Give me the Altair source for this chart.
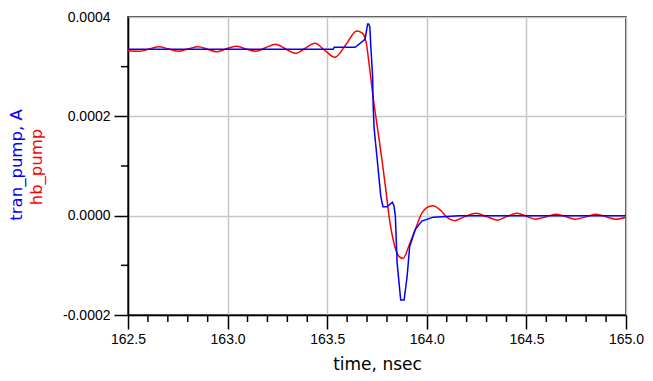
import altair as alt
import pandas as pd

# ---- data (time in ns, current in A) ----
tran_t = [162.50, 163.53, 163.535, 163.64, 163.69, 163.703, 163.708, 163.714, 163.719,
          163.728, 163.731, 163.736, 163.7525, 163.769, 163.78, 163.80, 163.827, 163.835,
          163.842, 163.851, 163.869, 163.886, 163.901, 163.914, 163.942, 163.975, 164.033,
          164.163, 165.0]
tran_v = [3.35, 3.35, 3.39, 3.39, 3.55, 3.86, 3.86, 3.80, 3.40,
          2.80, 2.18, 1.74, 1.07, 0.39, 0.18, 0.18, 0.27, 0.20,
          0.0, -0.95, -1.70, -1.70, -1.23, -0.62, -0.28, -0.11, -0.03,
          0.0, 0.0]

hb_t = [162.50, 162.56, 162.61, 162.655, 162.705, 162.754, 162.80, 162.853, 162.90, 162.944,
        162.99, 163.043, 163.09, 163.142, 163.19, 163.241, 163.29, 163.34, 163.39, 163.438,
        163.488, 163.538, 163.595, 163.648, 163.675, 163.695, 163.712, 163.730, 163.7525,
        163.777, 163.794, 163.81, 163.835, 163.86, 163.881, 163.909, 163.942, 163.975, 164.0,
        164.03, 164.074, 164.10, 164.14, 164.19, 164.248, 164.30, 164.355, 164.40, 164.454,
        164.50, 164.545, 164.60, 164.652, 164.70, 164.743, 164.80, 164.85, 164.90, 164.949,
        165.0]
hb_v = [3.32, 3.31, 3.36, 3.40, 3.355, 3.31, 3.355, 3.40, 3.35, 3.30,
        3.355, 3.41, 3.36, 3.31, 3.38, 3.45, 3.36, 3.27, 3.37, 3.47,
        3.33, 3.19, 3.45, 3.72, 3.68, 3.50, 3.00, 2.40, 1.76,
        1.06, 0.53, 0.0, -0.55, -0.82, -0.86, -0.62, -0.28, 0.05, 0.16,
        0.20, 0.09, -0.03, -0.10, -0.02, 0.05, -0.02, -0.09, -0.02, 0.05,
        -0.01, -0.07, -0.02, 0.03, -0.02, -0.07, -0.02, 0.03, -0.02, -0.07,
        -0.03]
scale_factor = 1e-4

x_major_ticks = [162.5, 163.0, 163.5, 164.0, 164.5, 165.0]
x_minor_ticks = [162.6, 162.7, 162.8, 162.9, 163.1, 163.2, 163.3, 163.4, 163.6, 163.7,
                 163.8, 163.9, 164.1, 164.2, 164.3, 164.4, 164.6, 164.7, 164.8, 164.9]
y_major_ticks = [-0.0002, 0.0, 0.0002, 0.0004]
y_minor_ticks = [-0.0001, 0.0001, 0.0003]
x_title = "time, nsec"
y_title_blue = ["tran_pump, A"]
y_title_red = ["hb_pump"]

BLUE = "#0000ff"
RED = "#ff0000"
FONT = "Liberation Sans"
TITLE_FONT = "DejaVu Sans"
FS = 14

tran_df = pd.DataFrame({"t": tran_t, "v": [v * scale_factor for v in tran_v]})
hb_df = pd.DataFrame({"t": hb_t, "v": [v * scale_factor for v in hb_v]})

x_scale = alt.Scale(domain=[162.5, 165.0], nice=False, zero=False)
y_scale = alt.Scale(domain=[-0.0002, 0.0004], nice=False, zero=False)

x_enc = alt.X(
    "t:Q",
    scale=x_scale,
    axis=alt.Axis(
        values=x_major_ticks,
        title=x_title,
        format=".1f",
        labelOverlap=False,
        labelFlush=False,
        tickSize=14,
        labelPadding=3,
        titlePadding=10,
        titleFont=TITLE_FONT,
        titleFontSize=17,
    ),
)
y_enc = alt.Y(
    "v:Q",
    scale=y_scale,
    axis=alt.Axis(
        values=y_major_ticks,
        title=None,
        labelExpr="replace(format(datum.value, '.4f'), '\u2212', '-')",
        labelOverlap=False,
        labelFlush=False,
        tickSize=14,
        tickOpacity={"condition": {"test": "datum.value > 0.00035", "value": 0}, "value": 1},
        labelPadding=4,
    ),
)

red_line = alt.Chart(hb_df).mark_line(color=RED, strokeWidth=1.5, interpolate="monotone").encode(
    x=x_enc, y=y_enc
)
blue_line = alt.Chart(tran_df).mark_line(color=BLUE, strokeWidth=1.5).encode(x=x_enc, y=y_enc)

x_minor = alt.Chart(pd.DataFrame({"t": x_minor_ticks})).mark_rule(
    color="#000000", strokeWidth=1.5
).encode(x=alt.X("t:Q", scale=x_scale), y=alt.value(298), y2=alt.value(305))
y_minor = alt.Chart(pd.DataFrame({"v": y_minor_ticks})).mark_rule(
    color="#000000", strokeWidth=1.5
).encode(y=alt.Y("v:Q", scale=y_scale), x=alt.value(0), x2=alt.value(-7))

blue_title = alt.Chart(pd.DataFrame({"label": y_title_blue})).mark_text(
    angle=270, color=BLUE, font=TITLE_FONT, fontSize=16.5, align="center", baseline="middle"
).encode(x=alt.value(-111), y=alt.value(148), text="label:N")
red_title = alt.Chart(pd.DataFrame({"label": y_title_red})).mark_text(
    angle=270, color=RED, font=TITLE_FONT, fontSize=16.5, align="center", baseline="middle"
).encode(x=alt.value(-91), y=alt.value(150), text="label:N")

chart = (
    alt.layer(red_line, blue_line, x_minor, y_minor, blue_title, red_title)
    .properties(
        width=498,
        height=298,
        background="white",
        autosize=alt.AutoSizeParams(type="none"),
        padding={"left": 120, "top": 9, "right": 18, "bottom": 57},
    )
    .configure_view(stroke="#000000", strokeWidth=1.5)
    .configure_axis(
        domainColor="#000000",
        domainWidth=1.5,
        tickColor="#000000",
        tickWidth=1.5,
        gridColor="#c4c8c4",
        gridWidth=1.5,
        labelFont=FONT,
        labelFontSize=FS,
        labelColor="#000000",
        titleFont=TITLE_FONT,
        titleFontWeight="normal",
        titleColor="#000000",
    )
)

chart.save("out.html", embed_options={"renderer": "svg", "actions": False})
